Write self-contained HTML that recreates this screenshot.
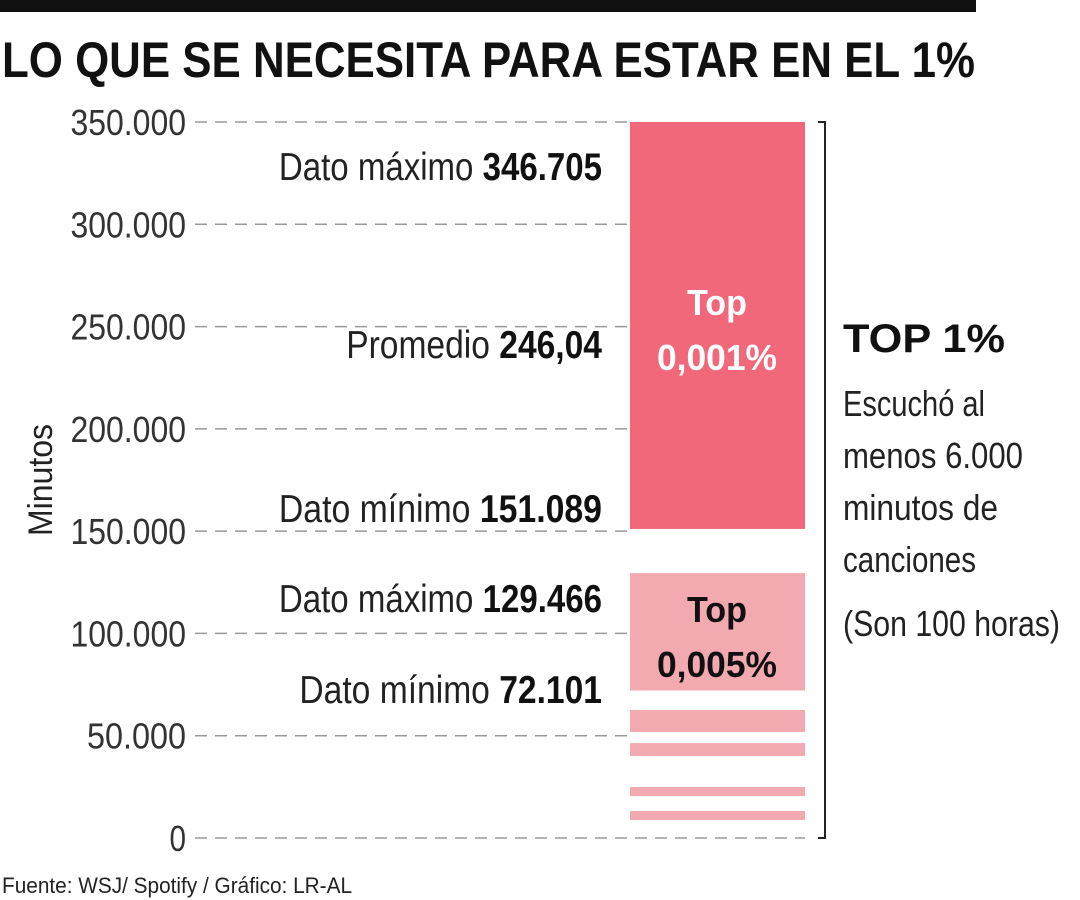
<!DOCTYPE html>
<html><head><meta charset="utf-8"><style>
body{margin:0;background:#fff}
svg{display:block}
text{font-family:"Liberation Sans",sans-serif}
</style></head><body>
<svg id="c" width="1080" height="900">
<rect x="0" y="0" width="976" height="12" fill="#111"/>
<text x="2" y="77" font-size="50" font-weight="bold" fill="#111" textLength="973" lengthAdjust="spacingAndGlyphs">LO QUE SE NECESITA PARA ESTAR EN EL 1%</text>
<g id="grid"></g><g id="bars"></g><g id="labels"></g>
<text transform="translate(52,480) rotate(-90)" text-anchor="middle" font-size="34" fill="#222" textLength="112" lengthAdjust="spacingAndGlyphs">Minutos</text>
<path d="M818 122 H825 V838 H818" fill="none" stroke="#222" stroke-width="2"/>
<text x="843" y="352" font-size="40" font-weight="bold" fill="#111" textLength="162" lengthAdjust="spacingAndGlyphs">TOP 1%</text>
<g font-size="36" fill="#222">
<text x="843" y="416" textLength="142" lengthAdjust="spacingAndGlyphs">Escuchó al</text>
<text x="843" y="468" textLength="180" lengthAdjust="spacingAndGlyphs">menos 6.000</text>
<text x="843" y="520" textLength="155" lengthAdjust="spacingAndGlyphs">minutos de</text>
<text x="843" y="572" textLength="133" lengthAdjust="spacingAndGlyphs">canciones</text>
<text x="843" y="636" textLength="217" lengthAdjust="spacingAndGlyphs">(Son 100 horas)</text>
</g>
<text x="2" y="893" font-size="22" fill="#222" textLength="350" lengthAdjust="spacingAndGlyphs">Fuente: WSJ/ Spotify / Gráfico: LR-AL</text>
</svg>
<script>
const ticks=[0,50000,100000,150000,200000,250000,300000,350000];
const tickLabels=["0","50.000","100.000","150.000","200.000","250.000","300.000","350.000"];
const barLows=[151089,72101,51800,40100,20500,8800];
const barHighs=[350000,129466,62600,46400,24900,13200];
const barNames=["top-0001","top-0005","stripe-1","stripe-2","stripe-3","stripe-4"];
const annotNames=["Dato máximo","Promedio","Dato mínimo","Dato máximo","Dato mínimo"];
const annotText=["346.705","246,04","151.089","129.466","72.101"];
const annotPos=[327500,240500,160300,116300,71900];
const NS="http://www.w3.org/2000/svg";
const y=v=>838-v*(716/350000);
function mk(t,a,p){const e=document.createElementNS(NS,t);for(const k in a)e.setAttribute(k,a[k]);p.appendChild(e);return e;}
const G=document.getElementById('grid'),B=document.getElementById('bars'),L=document.getElementById('labels');
ticks.forEach((t,i)=>{
 const l=mk('line',{x1:195,x2:t===0?805:630,y1:y(t),y2:y(t),stroke:'#999','stroke-width':1.5,'stroke-dasharray':'12 8'},G);
 
 
 const tx=mk('text',{x:186,y:y(t)+13,'text-anchor':'end','font-size':36,fill:'#333',textLength:tickLabels[i].length*16.5,lengthAdjust:'spacingAndGlyphs'},G);
 tx.textContent=tickLabels[i];
 
 
});
barLows.forEach((lo,i)=>{
 const r=mk('rect',{x:630,width:175,y:y(barHighs[i]),height:y(lo)-y(barHighs[i]),fill:i===0?'#f0687a':'#f2a9b0'},B);
 
 
});
function barText(lines,ys,fill,name){lines.forEach((s,j)=>{const t=mk('text',{x:717,y:ys[j],'text-anchor':'middle','font-size':36,'font-weight':'bold',fill:fill,textLength:s.length*20,lengthAdjust:'spacingAndGlyphs'},B);t.textContent=s;
 
 });}
barText(["Top","0,001%"],[315,370],'#fff','bar-label-top-0001');
barText(["Top","0,005%"],[622,677],'#111','bar-label-top-0005');
annotNames.forEach((n,i)=>{
 const t=mk('text',{x:602,y:y(annotPos[i])+12,'text-anchor':'end','font-size':39,fill:'#222'},L);
 const w=n.length*15.6+annotText[i].length*20.5+8;
 t.setAttribute('textLength',w);t.setAttribute('lengthAdjust','spacingAndGlyphs');
 const a=mk('tspan',{},t);a.textContent=n+' ';
 const b=mk('tspan',{'font-weight':'bold',fill:'#111'},t);b.textContent=annotText[i];
 
 
});
</script>
</body></html>
